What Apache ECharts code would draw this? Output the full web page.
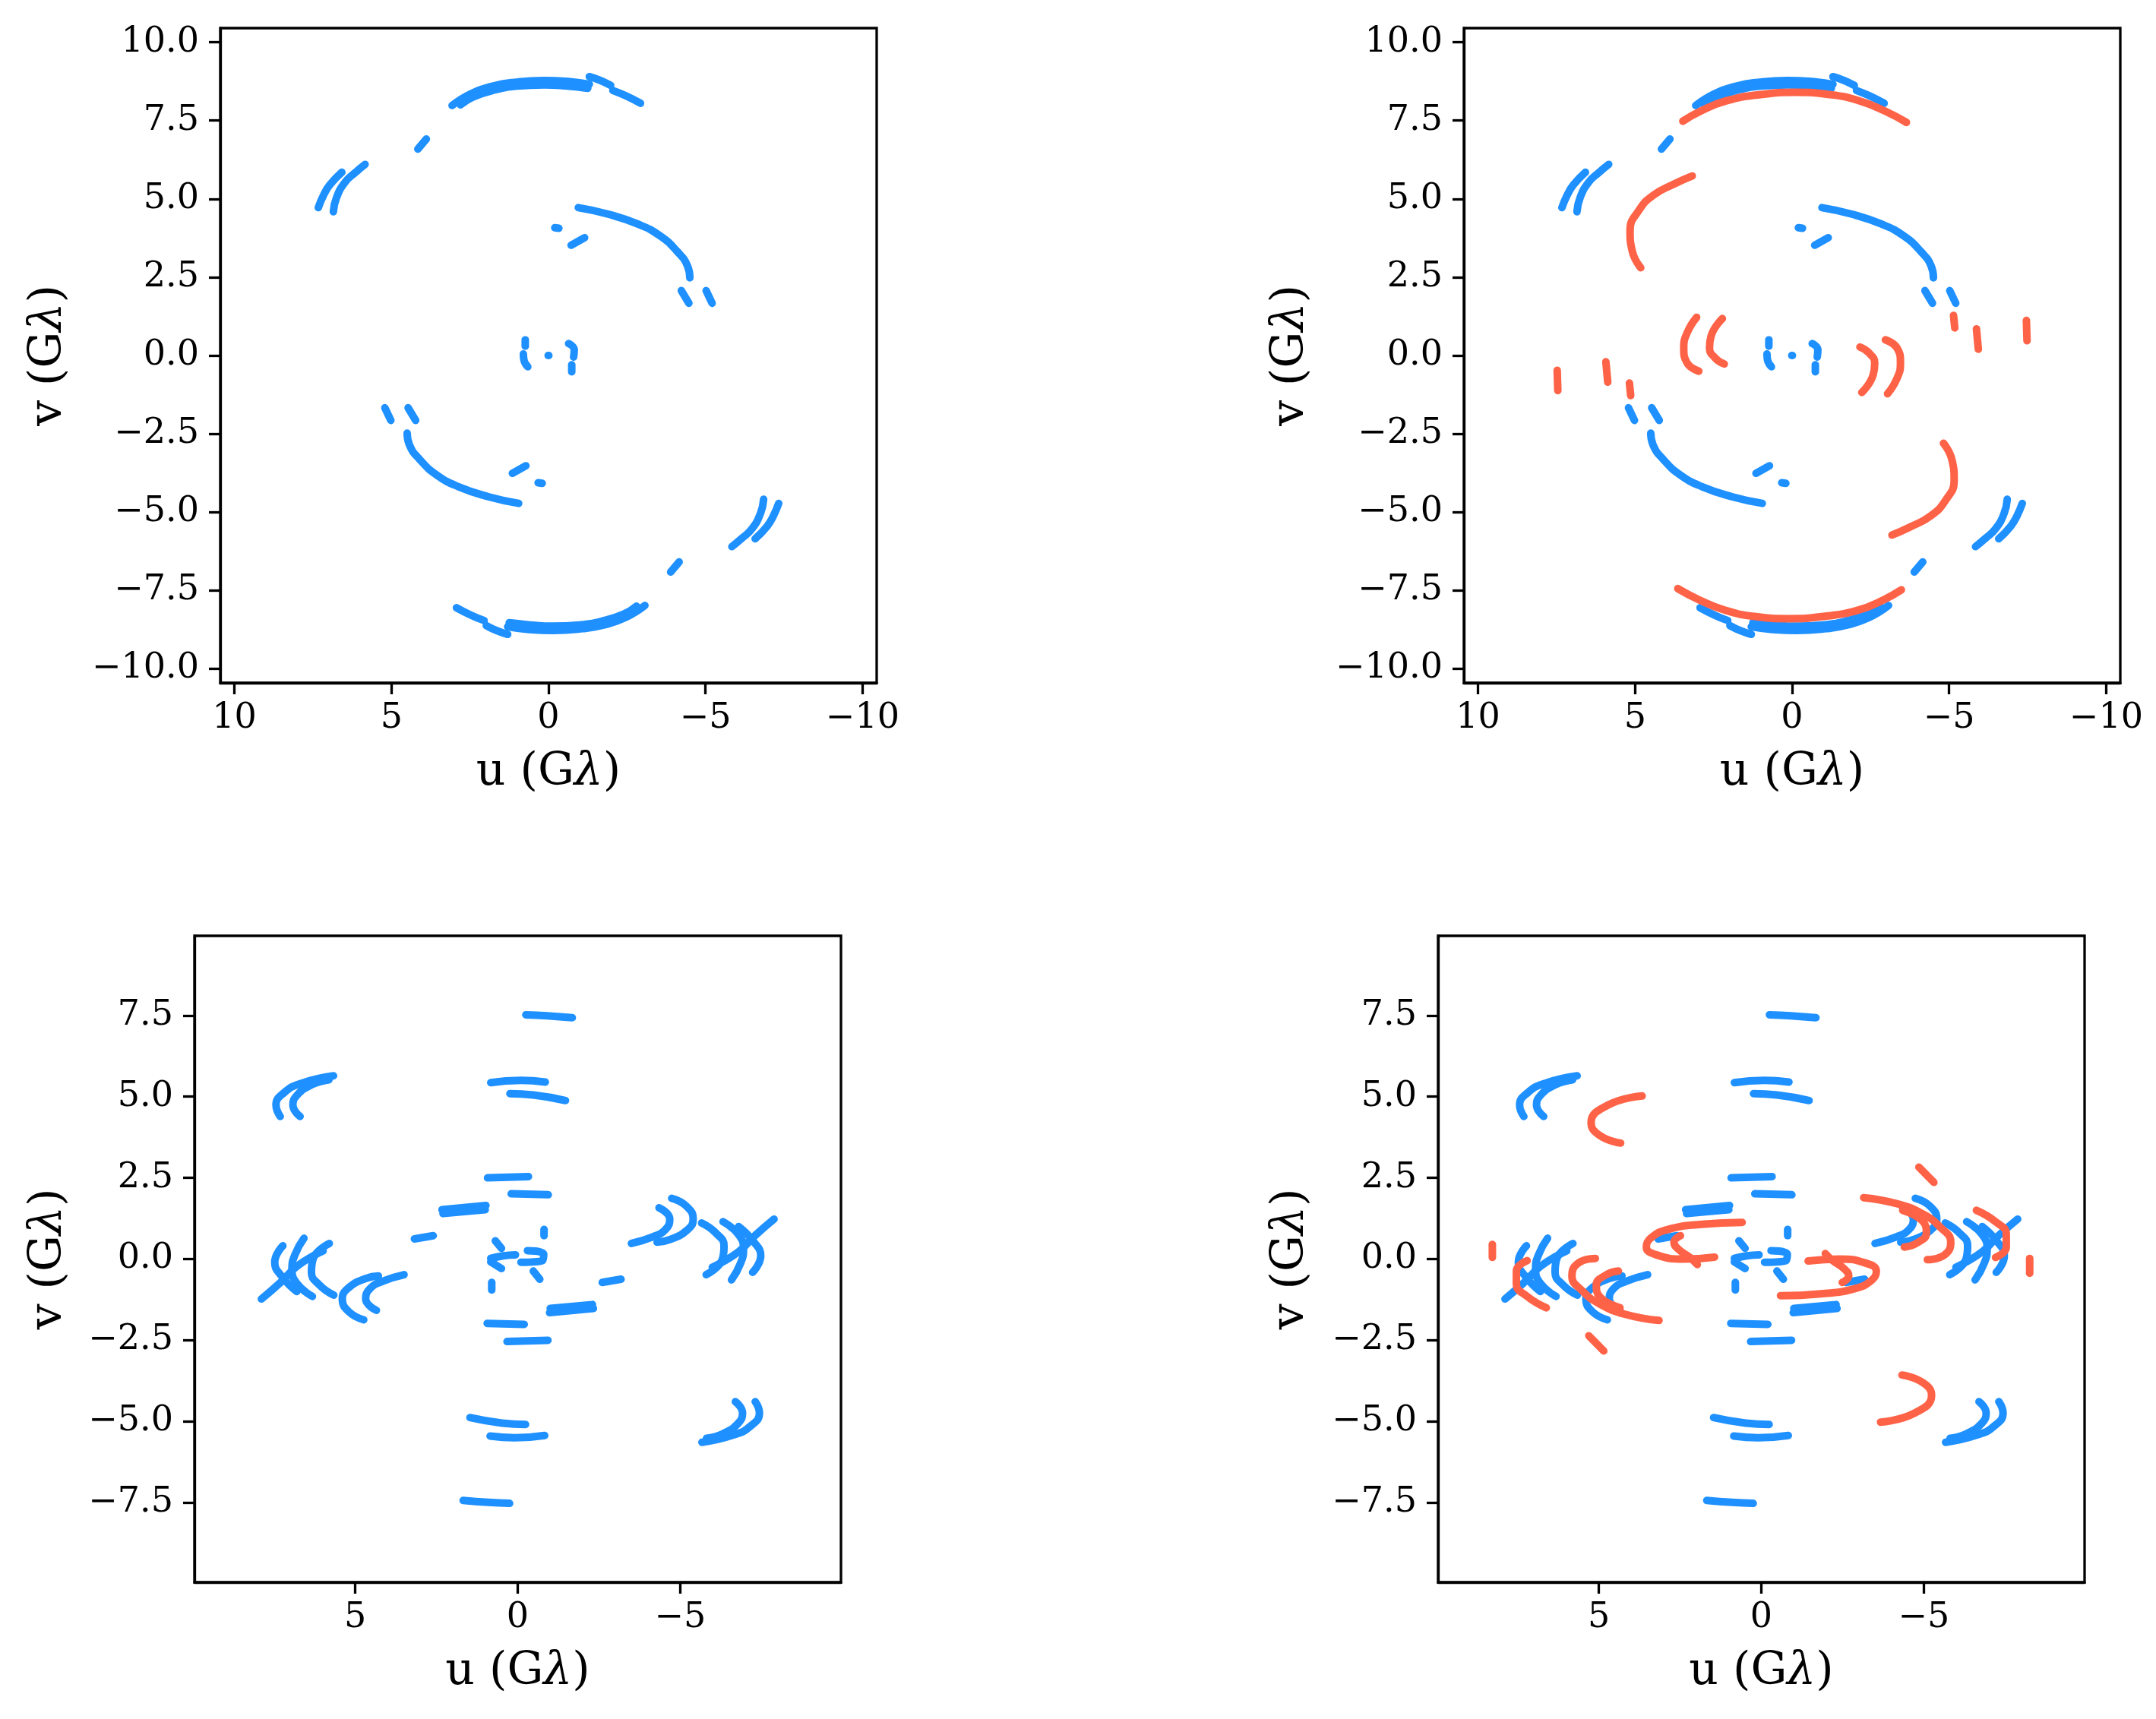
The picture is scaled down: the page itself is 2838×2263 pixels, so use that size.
<!DOCTYPE html>
<html><head><meta charset="utf-8">
<script src="https://cdn.jsdelivr.net/npm/echarts@6/dist/echarts.min.js"></script>
<style>html,body{margin:0;padding:0;background:#fff;}#c{width:2838px;height:2263px;}</style>
</head><body><div id="c"></div>
<script>
// ---- DATA (u, v in G-lambda), each inner array is one observed track ----
const blueTracksA = [
  [[3.07,7.98],[2.46,8.36],[1.77,8.60],[1.09,8.72],[0.14,8.78],[-0.68,8.74],[-1.30,8.66]],
  [[2.80,8.00],[2.40,8.25],[1.70,8.48],[1.00,8.60],[0.14,8.64],[-0.60,8.60],[-1.25,8.53]],
  [[-1.30,8.90],[-1.65,8.78],[-1.98,8.62]],
  [[-2.05,8.46],[-2.46,8.29],[-2.93,8.05]],
  [[4.16,6.59],[3.89,6.91]],
  [[7.33,4.72],[7.16,5.12],[6.96,5.45],[6.58,5.85]],
  [[6.85,4.59],[6.75,5.04],[6.48,5.53],[6.14,5.85],[5.84,6.10]],
  [[-0.95,4.72],[-1.91,4.51],[-2.86,4.19],[-3.55,3.82],[-4.09,3.33],[-4.43,2.85],[-4.50,2.48]],
  [[-0.20,4.08],[-0.33,4.06]],
  [[-0.72,3.52],[-1.15,3.76]],
  [[-4.23,2.07],[-4.47,1.67]],
  [[-5.02,2.07],[-5.21,1.67]],
  [[0.74,0.50],[0.74,0.30]],
  [[0.80,0.05],[0.78,-0.15],[0.66,-0.36]],
  [[0.01,0.00],[-0.01,0.00]],
  [[-0.64,0.38],[-0.82,0.18],[-0.80,-0.05]],
  [[-0.74,-0.30],[-0.74,-0.52]],
  [[-3.07,-7.98],[-2.46,-8.36],[-1.77,-8.60],[-1.09,-8.72],[-0.14,-8.78],[0.68,-8.74],[1.30,-8.66]],
  [[-2.80,-8.00],[-2.40,-8.25],[-1.70,-8.48],[-1.00,-8.60],[-0.14,-8.64],[0.60,-8.60],[1.25,-8.53]],
  [[1.30,-8.90],[1.65,-8.78],[1.98,-8.62]],
  [[2.05,-8.46],[2.46,-8.29],[2.93,-8.05]],
  [[-4.16,-6.59],[-3.89,-6.91]],
  [[-7.33,-4.72],[-7.16,-5.12],[-6.96,-5.45],[-6.58,-5.85]],
  [[-6.85,-4.59],[-6.75,-5.04],[-6.48,-5.53],[-6.14,-5.85],[-5.84,-6.10]],
  [[0.95,-4.72],[1.91,-4.51],[2.86,-4.19],[3.55,-3.82],[4.09,-3.33],[4.43,-2.85],[4.50,-2.48]],
  [[0.20,-4.08],[0.33,-4.06]],
  [[0.72,-3.52],[1.15,-3.76]],
  [[4.23,-2.07],[4.47,-1.67]],
  [[5.02,-2.07],[5.21,-1.67]]
];
const redTracksA = [
  [[3.48,7.48],[2.91,7.80],[2.09,8.13],[1.00,8.33],[-0.10,8.40],[-1.19,8.33],[-2.14,8.13],[-2.96,7.80],[-3.64,7.44]],
  [[3.18,5.73],[3.72,5.49],[4.41,5.12],[4.88,4.63],[5.16,3.98],[5.09,3.33],[4.82,2.80]],
  [[3.04,1.22],[3.34,0.73],[3.45,0.24],[3.34,-0.24],[2.97,-0.50]],
  [[2.22,1.18],[2.58,0.62],[2.63,0.24],[2.45,-0.08],[2.16,-0.27]],
  [[-5.14,1.28],[-5.18,0.88]],
  [[-5.87,0.85],[-5.93,0.20]],
  [[-7.46,1.12],[-7.48,0.47]],
  [[-3.48,-7.48],[-2.91,-7.80],[-2.09,-8.13],[-1.00,-8.33],[0.10,-8.40],[1.19,-8.33],[2.14,-8.13],[2.96,-7.80],[3.64,-7.44]],
  [[-3.18,-5.73],[-3.72,-5.49],[-4.41,-5.12],[-4.88,-4.63],[-5.16,-3.98],[-5.09,-3.33],[-4.82,-2.80]],
  [[-3.04,-1.22],[-3.34,-0.73],[-3.45,-0.24],[-3.34,0.24],[-2.97,0.50]],
  [[-2.22,-1.18],[-2.58,-0.62],[-2.63,-0.24],[-2.45,0.08],[-2.16,0.27]],
  [[5.14,-1.28],[5.18,-0.88]],
  [[5.87,-0.85],[5.93,-0.20]],
  [[7.46,-1.12],[7.48,-0.47]]
];
const blueTracksB = [
  [[-0.25,7.52],[-0.90,7.49],[-1.68,7.43]],
  [[0.83,5.43],[-0.09,5.50],[-0.85,5.45]],
  [[0.24,5.09],[-0.48,5.05],[-1.47,4.88]],
  [[7.31,4.39],[7.44,4.74],[7.18,5.13],[6.66,5.41],[5.67,5.64]],
  [[6.70,4.39],[6.92,4.74],[6.79,5.05],[6.33,5.37],[5.81,5.52]],
  [[0.93,2.50],[-0.33,2.54]],
  [[0.20,2.01],[-0.94,1.98]],
  [[2.33,1.52],[0.98,1.65]],
  [[2.30,1.40],[1.00,1.52]],
  [[3.18,0.62],[2.60,0.72]],
  [[-4.74,1.87],[-5.20,1.62],[-5.40,1.23],[-5.20,0.88],[-4.68,0.60],[-4.29,0.52]],
  [[-4.35,1.58],[-4.68,1.23],[-4.55,0.91],[-4.15,0.68],[-3.50,0.48]],
  [[-5.66,1.11],[-6.10,0.80],[-6.35,0.40],[-6.30,0.00],[-5.80,-0.48]],
  [[-6.32,1.15],[-6.80,0.75],[-6.95,0.30],[-6.85,-0.15],[-6.58,-0.64]],
  [[-6.80,1.00],[-7.25,0.55],[-7.48,0.10],[-7.23,-0.41]],
  [[-7.89,1.23],[-7.30,0.72],[-6.78,0.21],[-5.99,-0.25]],
  [[0.69,0.56],[0.50,0.33]],
  [[0.83,0.02],[0.45,0.10],[0.07,0.13]],
  [[0.83,-0.09],[0.50,-0.29]],
  [[-0.30,0.26],[-0.80,0.15],[-0.76,-0.05],[-0.10,-0.10]],
  [[-0.48,-0.37],[-0.68,-0.62]],
  [[0.80,-0.72],[0.80,-0.95]],
  [[-0.81,0.91],[-0.81,0.72]],
  [[0.25,-7.52],[0.90,-7.49],[1.68,-7.43]],
  [[-0.83,-5.43],[0.09,-5.50],[0.85,-5.45]],
  [[-0.24,-5.09],[0.48,-5.05],[1.47,-4.88]],
  [[-7.31,-4.39],[-7.44,-4.74],[-7.18,-5.13],[-6.66,-5.41],[-5.67,-5.64]],
  [[-6.70,-4.39],[-6.92,-4.74],[-6.79,-5.05],[-6.33,-5.37],[-5.81,-5.52]],
  [[-0.93,-2.50],[0.33,-2.54]],
  [[-0.20,-2.01],[0.94,-1.98]],
  [[-2.33,-1.52],[-0.98,-1.65]],
  [[-2.30,-1.40],[-1.00,-1.52]],
  [[-3.18,-0.62],[-2.60,-0.72]],
  [[4.74,-1.87],[5.20,-1.62],[5.40,-1.23],[5.20,-0.88],[4.68,-0.60],[4.29,-0.52]],
  [[4.35,-1.58],[4.68,-1.23],[4.55,-0.91],[4.15,-0.68],[3.50,-0.48]],
  [[5.66,-1.11],[6.10,-0.80],[6.35,-0.40],[6.30,0.00],[5.80,0.48]],
  [[6.32,-1.15],[6.80,-0.75],[6.95,-0.30],[6.85,0.15],[6.58,0.64]],
  [[6.80,-1.00],[7.25,-0.55],[7.48,-0.10],[7.23,0.41]],
  [[7.89,-1.23],[7.30,-0.72],[6.78,-0.21],[5.99,0.25]]
];
const redTracksB = [
  [[3.67,5.02],[4.72,4.74],[5.24,4.20],[4.98,3.81],[4.33,3.57]],
  [[-4.85,2.83],[-5.31,2.36]],
  [[8.28,0.45],[8.28,0.05]],
  [[0.59,1.13],[1.83,1.07],[2.88,0.91],[3.41,0.64],[3.54,0.37],[3.20,0.12],[2.40,0.00],[1.44,0.06]],
  [[2.49,0.72],[2.69,0.52],[2.55,0.30],[2.20,0.05],[1.97,-0.17]],
  [[-3.15,1.89],[-4.19,1.70],[-4.98,1.38],[-5.50,0.99],[-5.83,0.52],[-5.64,0.13],[-5.11,-0.02]],
  [[-4.35,1.50],[-4.98,1.15],[-5.08,0.80],[-4.80,0.50],[-4.40,0.37]],
  [[-6.62,1.50],[-7.21,1.15],[-7.54,0.76],[-7.54,0.37],[-7.21,0.05]],
  [[-3.67,-5.02],[-4.72,-4.74],[-5.24,-4.20],[-4.98,-3.81],[-4.33,-3.57]],
  [[4.85,-2.83],[5.31,-2.36]],
  [[-8.26,0.02],[-8.26,-0.44]],
  [[-0.59,-1.13],[-1.83,-1.07],[-2.88,-0.91],[-3.41,-0.64],[-3.54,-0.37],[-3.20,-0.12],[-2.40,0.00],[-1.44,-0.06]],
  [[-2.49,-0.72],[-2.69,-0.52],[-2.55,-0.30],[-2.20,-0.05],[-1.97,0.17]],
  [[3.15,-1.89],[4.19,-1.70],[4.98,-1.38],[5.50,-0.99],[5.83,-0.52],[5.64,-0.13],[5.11,0.02]],
  [[4.35,-1.50],[4.98,-1.15],[5.08,-0.80],[4.80,-0.50],[4.40,-0.37]],
  [[6.62,-1.50],[7.21,-1.15],[7.54,-0.76],[7.54,-0.37],[7.21,-0.05]]
];
const xTicksA = [10, 5, 0, -5, -10];
const xTickLabelsA = ['10', '5', '0', '\u22125', '\u221210'];
const yTicksA = [-10, -7.5, -5, -2.5, 0, 2.5, 5, 7.5, 10];
const yTickLabelsA = ['\u221210.0', '\u22127.5', '\u22125.0', '\u22122.5', '0.0', '2.5', '5.0', '7.5', '10.0'];
const xTicksB = [5, 0, -5];
const xTickLabelsB = ['5', '0', '\u22125'];
const yTicksB = [-7.5, -5, -2.5, 0, 2.5, 5, 7.5];
const yTickLabelsB = ['\u22127.5', '\u22125.0', '\u22122.5', '0.0', '2.5', '5.0', '7.5'];

// ---- STYLE / LAYOUT ----
const BLUE = '#1E90FF', RED = '#FF6347';
const FONT = 'DejaVu Serif';
const panels = [
  {left: 290, top: 37, w: 864, h: 862, lim: 10.45, xt: xTicksA, xl: xTickLabelsA, yt: yTicksA, yl: yTickLabelsA, ygap: 196, layers: [[blueTracksA, BLUE]]},
  {left: 1927, top: 37, w: 864, h: 862, lim: 10.45, xt: xTicksA, xl: xTickLabelsA, yt: yTicksA, yl: yTickLabelsA, ygap: 198, layers: [[blueTracksA, BLUE], [redTracksA, RED]]},
  {left: 256, top: 1232, w: 851, h: 851, lim: 9.95, xt: xTicksB, xl: xTickLabelsB, yt: yTicksB, yl: yTickLabelsB, ygap: 162, layers: [[blueTracksB, BLUE]]},
  {left: 1893, top: 1232, w: 851, h: 851, lim: 9.95, xt: xTicksB, xl: xTickLabelsB, yt: yTicksB, yl: yTickLabelsB, ygap: 164, layers: [[blueTracksB, BLUE], [redTracksB, RED]]}
];
function lab(ticks, labels) {
  return v => { for (let i = 0; i < ticks.length; i++) if (Math.abs(ticks[i] - v) < 1e-6) return labels[i]; return ''; };
}
const nameStyle = {fontFamily: FONT, fontSize: 60, color: '#000', rich: {l: {fontFamily: FONT, fontStyle: 'italic', fontSize: 60, color: '#000'}}};
const grid = [], xAxis = [], yAxis = [], series = [];
panels.forEach((p, i) => {
  grid.push({left: p.left, top: p.top, width: p.w, height: p.h, show: true, borderColor: '#000', borderWidth: 3.3, containLabel: false});
  const common = {type: 'value', gridIndex: i, min: -p.lim, max: p.lim, splitLine: {show: false},
    axisLine: {show: true, onZero: false, lineStyle: {color: '#000', width: 3.3}},
    nameLocation: 'middle', nameTextStyle: nameStyle};
  xAxis.push(Object.assign({}, common, {inverse: true, name: 'u (G{l|\u03bb})', nameGap: 88,
    axisTick: {show: true, customValues: p.xt, length: 15, lineStyle: {color: '#000', width: 3.3}},
    axisLabel: {customValues: p.xt, formatter: lab(p.xt, p.xl), margin: 24, fontFamily: FONT, fontSize: 46, color: '#000'}}));
  yAxis.push(Object.assign({}, common, {name: 'v (G{l|\u03bb})', nameGap: p.ygap,
    axisTick: {show: true, customValues: p.yt, length: 15, lineStyle: {color: '#000', width: 3.3}},
    axisLabel: {customValues: p.yt, formatter: lab(p.yt, p.yl), margin: 28, fontFamily: FONT, fontSize: 46, color: '#000'}}));
  p.layers.forEach(([tracks, color]) => {
    tracks.forEach(t => series.push({type: 'line', xAxisIndex: i, yAxisIndex: i, data: t, smooth: 0.5,
      showSymbol: false, silent: true, animation: false,
      lineStyle: {color: color, width: 10, cap: 'round', join: 'round'}}));
  });
});
const chart = echarts.init(document.getElementById('c'), null, {renderer: 'canvas'});
chart.setOption({backgroundColor: '#fff', animation: false, grid, xAxis, yAxis, series});
</script></body></html>
